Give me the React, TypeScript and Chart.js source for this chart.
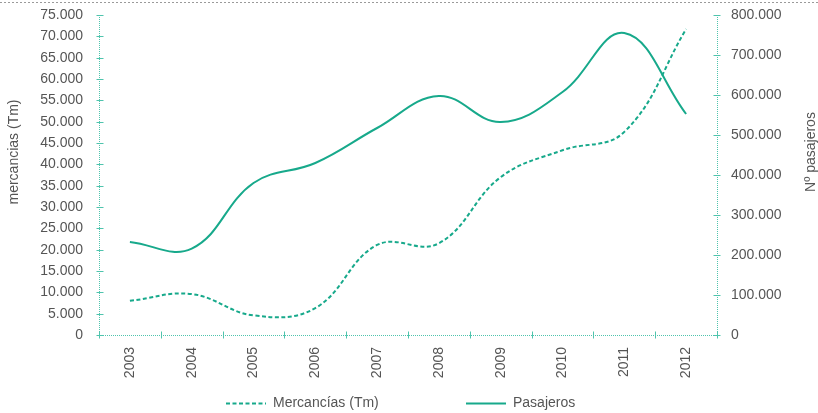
import React, { useEffect, useRef } from "react";
import { Chart, registerables } from "chart.js";

Chart.register(...registerables);

const years = ["2003", "2004", "2005", "2006", "2007", "2008", "2009", "2010", "2011", "2012"];
const mercancias = [8000, 9600, 4600, 6300, 21100, 21500, 37000, 43300, 47600, 71700];
const pasajeros = [232500, 216000, 380000, 430000, 517500, 597500, 532500, 607500, 755000, 552500];
const leftTicksMax = 75000;
const leftStep = 5000;
const rightTicksMax = 800000;
const rightStep = 100000;
const leftTitle = "mercancias (Tm)";
const rightTitle = "Nº pasajeros";
const legendLabels = ["Mercancías (Tm)", "Pasajeros"];

const LINE = "#17a98b";
const AXIS = "#4fc4ad";
const TEXT = "#555555";
const FONT = "'Liberation Sans', Arial, Helvetica, sans-serif";

const fmt = (v: number) => String(v).replace(/\B(?=(\d{3})+(?!\d))/g, ".");

const zeroPad = (s: any) => {
  s.paddingTop = 0;
  s.paddingBottom = 0;
  s.paddingLeft = 0;
  s.paddingRight = 0;
};

const decorPlugin = {
  id: "decor",
  beforeDatasetsDraw(chart: any) {
    const { ctx, chartArea } = chart;
    const { left, right, top, bottom } = chartArea;
    ctx.save();
    // top dotted border
    ctx.strokeStyle = "#9a9a9a";
    ctx.lineWidth = 1;
    ctx.setLineDash([2, 2]);
    ctx.beginPath();
    ctx.moveTo(0, 2.5);
    ctx.lineTo(chart.width, 2.5);
    ctx.stroke();

    // axis lines
    ctx.strokeStyle = AXIS;
    ctx.setLineDash([1, 1]);
    const lx = Math.round(left) + 0.5;
    const rx = Math.round(right) + 0.5;
    const by = Math.round(bottom) + 0.5;
    ctx.beginPath();
    ctx.moveTo(lx, top);
    ctx.lineTo(lx, bottom);
    ctx.moveTo(rx, top);
    ctx.lineTo(rx, bottom);
    ctx.moveTo(left, by);
    ctx.lineTo(right, by);
    ctx.stroke();

    // tick marks
    ctx.setLineDash([]);
    ctx.beginPath();
    const y = chart.scales.y;
    y.ticks.forEach((t: any) => {
      const py = Math.round(y.getPixelForValue(t.value)) + 0.5;
      ctx.moveTo(lx - 3, py);
      ctx.lineTo(lx + 4, py);
    });
    const y1 = chart.scales.y1;
    y1.ticks.forEach((t: any) => {
      const py = Math.round(y1.getPixelForValue(t.value)) + 0.5;
      ctx.moveTo(rx - 4, py);
      ctx.lineTo(rx + 3, py);
    });
    const n = years.length;
    const w = (right - left) / n;
    for (let i = 0; i <= n; i++) {
      const px = Math.round(left + i * w) + 0.5;
      ctx.moveTo(px, by - 4);
      ctx.lineTo(px, by + 3);
    }
    ctx.stroke();

    // axis titles
    ctx.fillStyle = TEXT;
    ctx.font = `14px ${FONT}`;
    ctx.textAlign = "center";
    ctx.textBaseline = "middle";
    ctx.save();
    ctx.translate(14, 152);
    ctx.rotate(-Math.PI / 2);
    ctx.fillText(leftTitle, 0, 0);
    ctx.restore();
    ctx.save();
    ctx.translate(811, 152);
    ctx.rotate(-Math.PI / 2);
    ctx.fillText(rightTitle, 0, 0);
    ctx.restore();

    // legend
    const ly = 403.5;
    ctx.strokeStyle = LINE;
    ctx.lineWidth = 2;
    ctx.setLineDash([4, 2.5]);
    ctx.beginPath();
    ctx.moveTo(226, ly);
    ctx.lineTo(266, ly);
    ctx.stroke();
    ctx.setLineDash([]);
    ctx.beginPath();
    ctx.moveTo(466, ly);
    ctx.lineTo(506, ly);
    ctx.stroke();
    ctx.textAlign = "left";
    ctx.fillText(legendLabels[0], 273, ly);
    ctx.fillText(legendLabels[1], 513, ly);
    ctx.restore();
  },
};

export default function App() {
  const ref = useRef<HTMLCanvasElement | null>(null);
  useEffect(() => {
    document.body.style.margin = "0";
    const canvas = ref.current;
    if (!canvas) return;
    const tickFont = { family: FONT, size: 14 };
    const chart = new Chart(canvas, {
      type: "line",
      data: {
        labels: years,
        datasets: [
          {
            label: legendLabels[0],
            data: mercancias,
            yAxisID: "y",
            borderColor: LINE,
            backgroundColor: LINE,
            borderWidth: 2,
            borderDash: [4, 2.5],
            pointRadius: 0,
            tension: 0.4,
            fill: false,
          },
          {
            label: legendLabels[1],
            data: pasajeros,
            yAxisID: "y1",
            borderColor: LINE,
            backgroundColor: LINE,
            borderWidth: 2,
            pointRadius: 0,
            tension: 0.4,
            fill: false,
          },
        ],
      },
      options: {
        animation: false,
        responsive: false,
        maintainAspectRatio: false,
        layout: { padding: { top: 15, left: 0, right: 0, bottom: 0 } },
        plugins: { legend: { display: false }, tooltip: { enabled: false } },
        scales: {
          x: {
            type: "category",
            offset: true,
            grid: { display: false, drawTicks: false },
            border: { display: false },
            ticks: { minRotation: 90, maxRotation: 90, padding: 12, font: tickFont, color: TEXT, autoSkip: false },
            afterFit: (s: any) => {
              s.height = 78;
              zeroPad(s);
            },
          },
          y: {
            position: "left",
            min: 0,
            max: leftTicksMax,
            grid: { display: false, drawTicks: false },
            border: { display: false },
            ticks: { stepSize: leftStep, padding: 16, font: tickFont, color: TEXT, callback: (v: any) => fmt(v) },
            afterFit: (s: any) => {
              s.width = 99;
              zeroPad(s);
            },
          },
          y1: {
            position: "right",
            min: 0,
            max: rightTicksMax,
            grid: { display: false, drawTicks: false },
            border: { display: false },
            ticks: { stepSize: rightStep, padding: 14, font: tickFont, color: TEXT, callback: (v: any) => fmt(v) },
            afterFit: (s: any) => {
              s.width = 101;
              zeroPad(s);
            },
          },
        },
      } as any,
      plugins: [decorPlugin],
    });
    return () => chart.destroy();
  }, []);
  return (
    <div style={{ width: 818, height: 413, background: "#fff" }}>
      <canvas ref={ref} width={818} height={413} style={{ display: "block" }} />
    </div>
  );
}
